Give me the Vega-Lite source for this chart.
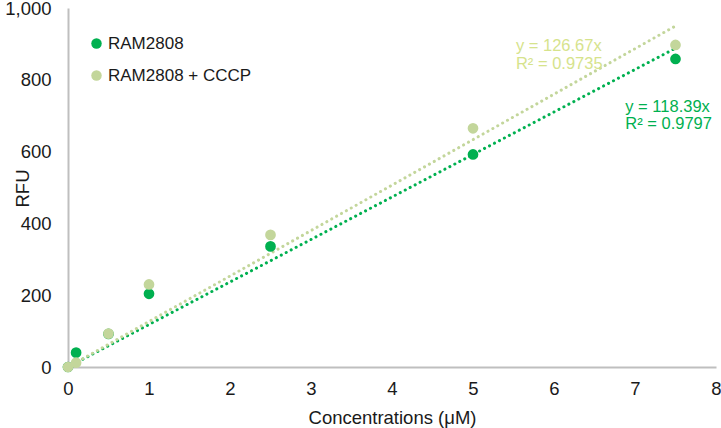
{
  "$schema": "https://vega.github.io/schema/vega-lite/v6.json",
  "width": 648,
  "height": 359,
  "autosize": {"type": "none"},
  "padding": {"left": 68, "top": 8, "right": 5, "bottom": 61},
  "background": "white",
  "config": {
    "view": {"stroke": null},
    "font": "Liberation Sans",
    "axis": {"labelFont": "Liberation Sans", "titleFont": "Liberation Sans", "labelColor": "#1a1a1a", "titleColor": "#1a1a1a", "labelFontSize": 18.5, "titleFontSize": 18.5, "titleFontWeight": "normal", "domainColor": "#BFBFBF", "domainWidth": 2, "ticks": false, "grid": false}
  },
  "datasets": {
    "points": [
      {"conc": 0, "rfu": 0, "series": "RAM2808"},
      {"conc": 0.1, "rfu": 40, "series": "RAM2808"},
      {"conc": 0.5, "rfu": 92, "series": "RAM2808"},
      {"conc": 1, "rfu": 204, "series": "RAM2808"},
      {"conc": 2.5, "rfu": 336, "series": "RAM2808"},
      {"conc": 5, "rfu": 592, "series": "RAM2808"},
      {"conc": 7.5, "rfu": 858, "series": "RAM2808"},
      {"conc": 0, "rfu": 0, "series": "RAM2808 + CCCP"},
      {"conc": 0.1, "rfu": 12, "series": "RAM2808 + CCCP"},
      {"conc": 0.5, "rfu": 93, "series": "RAM2808 + CCCP"},
      {"conc": 1, "rfu": 230, "series": "RAM2808 + CCCP"},
      {"conc": 2.5, "rfu": 368, "series": "RAM2808 + CCCP"},
      {"conc": 5, "rfu": 665, "series": "RAM2808 + CCCP"},
      {"conc": 7.5, "rfu": 897, "series": "RAM2808 + CCCP"}
    ],
    "trends": [
      {"conc": 0, "rfu": 0, "series": "RAM2808"},
      {"conc": 7.5, "rfu": 888, "series": "RAM2808"},
      {"conc": 0, "rfu": 0, "series": "RAM2808 + CCCP"},
      {"conc": 7.5, "rfu": 950, "series": "RAM2808 + CCCP"}
    ],
    "labels": [
      {"conc": 5.53, "rfu": 893, "text": "y = 126.67x", "series": "RAM2808 + CCCP"},
      {"conc": 5.53, "rfu": 845, "text": "R² = 0.9735", "series": "RAM2808 + CCCP"},
      {"conc": 6.88, "rfu": 725, "text": "y = 118.39x", "series": "RAM2808"},
      {"conc": 6.88, "rfu": 677, "text": "R² = 0.9797", "series": "RAM2808"}
    ]
  },
  "layer": [
    {
      "data": {"name": "trends"},
      "mark": {"type": "line", "strokeDash": [0.1, 5.5], "strokeWidth": 3, "strokeCap": "round"},
      "encoding": {
        "x": {"field": "conc", "type": "quantitative"},
        "y": {"field": "rfu", "type": "quantitative"},
        "detail": {"field": "series"},
        "color": {"field": "series", "type": "nominal", "scale": {"domain": ["RAM2808", "RAM2808 + CCCP"], "range": ["#00B050", "#C3D69B"]}, "legend": null}
      }
    },
    {
      "data": {"name": "points"},
      "mark": {"type": "circle", "size": 115, "opacity": 1},
      "encoding": {
        "x": {"field": "conc", "type": "quantitative", "scale": {"domain": [0, 8]}, "axis": {"title": "Concentrations (μM)", "tickCount": 8, "labelFlush": false, "labelPadding": 12, "titleX": 324, "titleY": 50, "titleBaseline": "middle", "titleAlign": "center"}},
        "y": {"field": "rfu", "type": "quantitative", "scale": {"domain": [0, 1000]}, "axis": {"title": "RFU", "values": [0, 200, 400, 600, 800, 1000], "format": ",d", "labelFlush": false, "labelPadding": 17, "titleX": -46, "titleY": 180, "titleAngle": -90, "titleAlign": "center", "titleBaseline": "middle"}},
        "color": {"field": "series", "type": "nominal", "scale": {"domain": ["RAM2808", "RAM2808 + CCCP"], "range": ["#00B050", "#C3D69B"]},
          "legend": {"title": null, "orient": "none", "legendX": 20, "legendY": 27, "symbolType": "circle", "symbolSize": 110, "labelFontSize": 17, "labelFont": "Liberation Sans", "labelColor": "#1a1a1a", "labelOffset": 3, "rowPadding": 14, "symbolOpacity": 1}}
      }
    },
    {
      "data": {"name": "labels"},
      "mark": {"type": "text", "align": "left", "baseline": "middle", "fontSize": 16.5, "font": "Liberation Sans"},
      "encoding": {
        "x": {"field": "conc", "type": "quantitative"},
        "y": {"field": "rfu", "type": "quantitative"},
        "text": {"field": "text"},
        "color": {"field": "series", "type": "nominal", "scale": {"domain": ["RAM2808", "RAM2808 + CCCP"], "range": ["#00B050", "#D6E38C"]}, "legend": null}
      }
    }
  ],
  "resolve": {"scale": {"color": "independent"}}
}
